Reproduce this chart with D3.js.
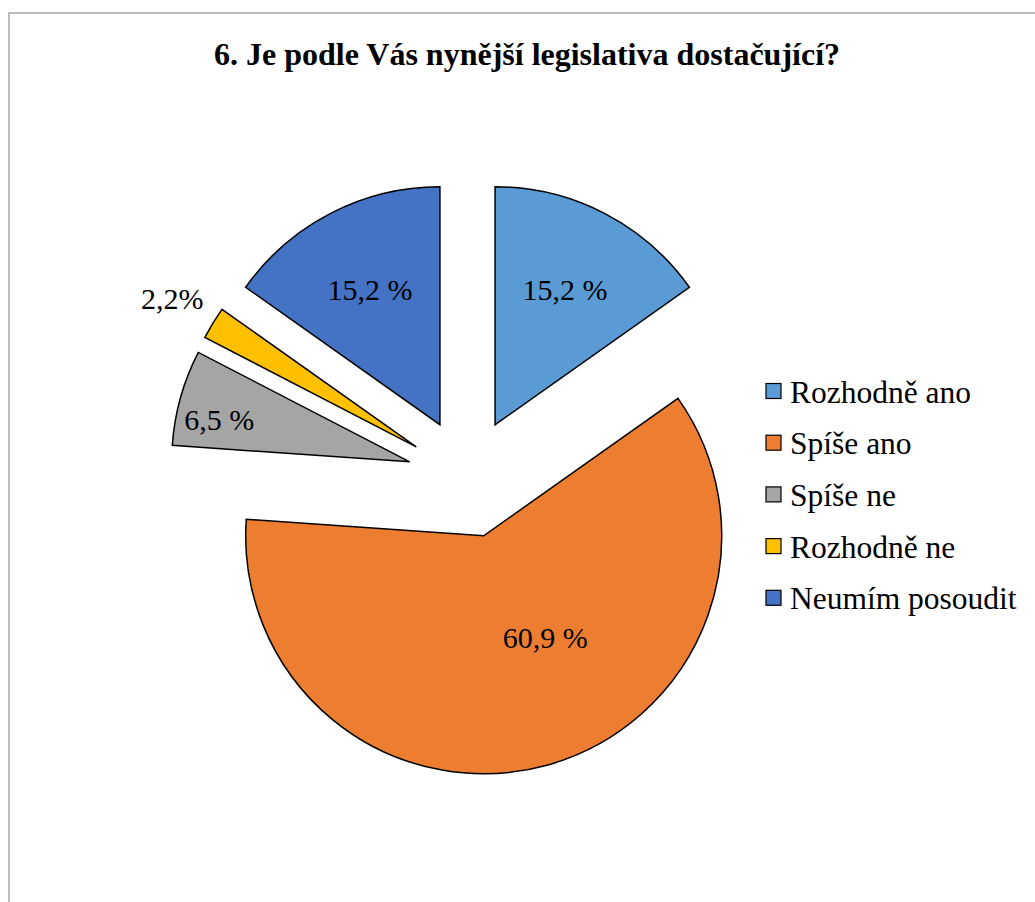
<!DOCTYPE html>
<html>
<head>
<meta charset="utf-8">
<script src="https://cdn.jsdelivr.net/npm/d3@7"></script>
<style>
  body { margin: 0; background: #fff; }
</style>
</head>
<body>
<div id="chart"></div>
<script>
const categories = ["Rozhodně ano", "Spíše ano", "Spíše ne", "Rozhodně ne", "Neumím posoudit"];
const values = [15.2, 60.9, 6.5, 2.2, 15.2];
const valueLabels = ["15,2 %", "60,9 %", "6,5 %", "2,2%", "15,2 %"];
const colors = ["#5B9BD5", "#ED7D31", "#A5A5A5", "#FFC000", "#4472C4"];

const width = 1035, height = 902;
const cx = 467.5, cy = 478;
const radius = 238;
const explode = 60;
const serif = "'Liberation Serif', 'Times New Roman', Times, 'DejaVu Serif', serif";

// label placement per slice: [angle shift in degrees from bisector, distance as fraction of radius]
const labelPlace = [[0, 0.64], [-15.5, 0.5], [-3, 0.82], [0, 1.2], [0, 0.64]];

const svg = d3.select("#chart").append("svg")
  .attr("width", width)
  .attr("height", height)
  .style("display", "block");

// chart frame
svg.append("rect")
  .attr("x", 9).attr("y", 13)
  .attr("width", 1040).attr("height", 900)
  .attr("fill", "none")
  .attr("stroke", "#a6a6a6")
  .attr("stroke-width", 1.5);

svg.append("text")
  .attr("x", 527).attr("y", 54)
  .attr("text-anchor", "middle")
  .attr("dominant-baseline", "central")
  .attr("font-family", serif)
  .attr("font-size", 32)
  .attr("font-weight", "bold")
  .text("6. Je podle Vás nynější legislativa dostačující?");

const pie = d3.pie().sort(null).value(d => d);
const arcs = pie(values);
const arc = d3.arc().innerRadius(0).outerRadius(radius);

const g = svg.append("g").attr("transform", `translate(${cx},${cy})`);

const slice = g.selectAll("g.slice")
  .data(arcs)
  .enter()
  .append("g")
  .attr("class", "slice")
  .attr("transform", d => {
    const mid = (d.startAngle + d.endAngle) / 2;
    const p = d3.pointRadial(mid, explode);
    return `translate(${p[0]},${p[1]})`;
  });

slice.append("path")
  .attr("d", arc)
  .attr("fill", (d, i) => colors[i])
  .attr("stroke", "#000")
  .attr("stroke-width", 1.5)
  .attr("stroke-linejoin", "miter");

slice.append("text")
  .attr("transform", (d, i) => {
    const mid = (d.startAngle + d.endAngle) / 2 + labelPlace[i][0] * Math.PI / 180;
    const p = d3.pointRadial(mid, radius * labelPlace[i][1]);
    return `translate(${p[0]},${p[1]})`;
  })
  .attr("text-anchor", "middle")
  .attr("dominant-baseline", "central")
  .attr("font-family", serif)
  .attr("font-size", 30)
  .text((d, i) => valueLabels[i]);

// legend
const legend = svg.append("g").attr("transform", "translate(766,391)");
const item = legend.selectAll("g")
  .data(categories)
  .enter()
  .append("g")
  .attr("transform", (d, i) => `translate(0,${i * 51.7})`);

item.append("rect")
  .attr("x", 0).attr("y", -7.5)
  .attr("width", 15).attr("height", 15)
  .attr("fill", (d, i) => colors[i])
  .attr("stroke", "#000")
  .attr("stroke-width", 1.2);

item.append("text")
  .attr("x", 24).attr("y", 1)
  .attr("dominant-baseline", "central")
  .attr("font-family", serif)
  .attr("font-size", 31.5)
  .text(d => d);
</script>
</body>
</html>
